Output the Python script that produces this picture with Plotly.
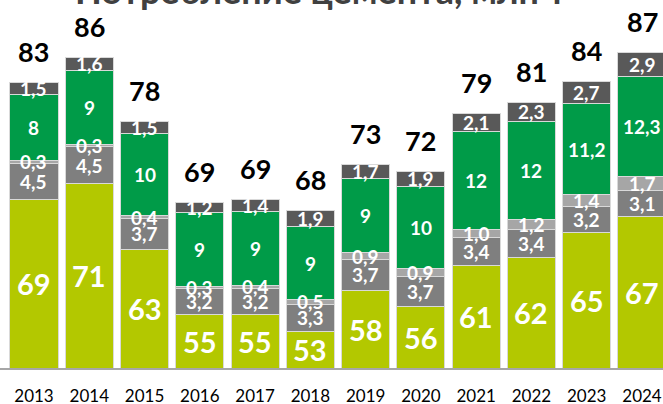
import plotly.graph_objects as go

years = ["2013", "2014", "2015", "2016", "2017", "2018", "2019", "2020", "2021", "2022", "2023", "2024"]
seg1 = [69, 71, 63, 55, 55, 53, 58, 56, 61, 62, 65, 67]          # yellow-green
seg2 = [4.5, 4.5, 3.7, 3.2, 3.2, 3.3, 3.7, 3.7, 3.4, 3.4, 3.2, 3.1]  # gray
seg3 = [0.3, 0.3, 0.4, 0.3, 0.4, 0.5, 0.9, 0.9, 1.0, 1.2, 1.4, 1.7]  # light gray
seg4 = [8, 9, 10, 9, 9, 9, 9, 10, 12, 12, 11.2, 12.3]             # green
seg5 = [1.5, 1.6, 1.5, 1.2, 1.4, 1.9, 1.7, 1.9, 2.1, 2.3, 2.7, 2.9]  # dark gray
totals = [83, 86, 78, 69, 69, 68, 73, 72, 79, 81, 84, 87]
title = "Потребление цемента, млн т"

series = [seg1, seg2, seg3, seg4, seg5]
colors = ["#B3C800", "#7F7F7F", "#A6A6A6", "#009B48", "#595959"]

Y0, Y1 = 48.5, 48.5 + 368 / 8.2
FONT = "Lato"

def fmt(v):
    if isinstance(v, float):
        return f"{v:.1f}".replace(".", ",")
    return str(v)

fig = go.Figure()
for s, c in zip(series, colors):
    fig.add_trace(go.Bar(x=years, y=s, marker=dict(color=c, line=dict(color="#D9D9D9", width=1)),
                         hoverinfo="skip", showlegend=False))

annotations = []
cum = [0.0] * len(years)
for k, s in enumerate(series):
    for i, v in enumerate(s):
        lo = max(cum[i], Y0)
        hi = cum[i] + v
        mid = (lo + hi) / 2
        size = 29 if k == 0 else 19
        annotations.append(dict(x=i, y=mid, text="<b>" + fmt(v) + "</b>", showarrow=False,
                                font=dict(family=FONT, size=size, color="white"),
                                xref="x", yref="y", yanchor="middle"))
        cum[i] = hi

for i, t in enumerate(totals):
    annotations.append(dict(x=i, y=cum[i], text="<b>" + str(t) + "</b>", showarrow=False,
                            font=dict(family=FONT, size=27, color="black"),
                            xref="x", yref="y", yanchor="middle", yshift=31))

annotations.append(dict(x=321 / 663, y=1.0, xref="paper", yref="paper", text="<b>" + title + "</b>",
                        showarrow=False, xanchor="center", yanchor="middle", yshift=10,
                        font=dict(family=FONT, size=36, color="#404040")))

fig.update_layout(
    width=663, height=404,
    margin=dict(l=0, r=0, t=0, b=36, pad=0),
    paper_bgcolor="white", plot_bgcolor="white",
    barmode="stack", bargap=0.13,
    annotations=annotations,
    xaxis=dict(type="category", range=[-0.615, 11.38], showgrid=False, zeroline=False,
               showline=True, linecolor="#A6A6A6", linewidth=2,
               ticks="outside", ticklen=12, tickcolor="rgba(0,0,0,0)",
               tickfont=dict(family=FONT, size=17, color="#000000"), automargin=False),
    yaxis=dict(range=[Y0, Y1], visible=False, showgrid=False, zeroline=False),
)

fig.write_html("out.html")
